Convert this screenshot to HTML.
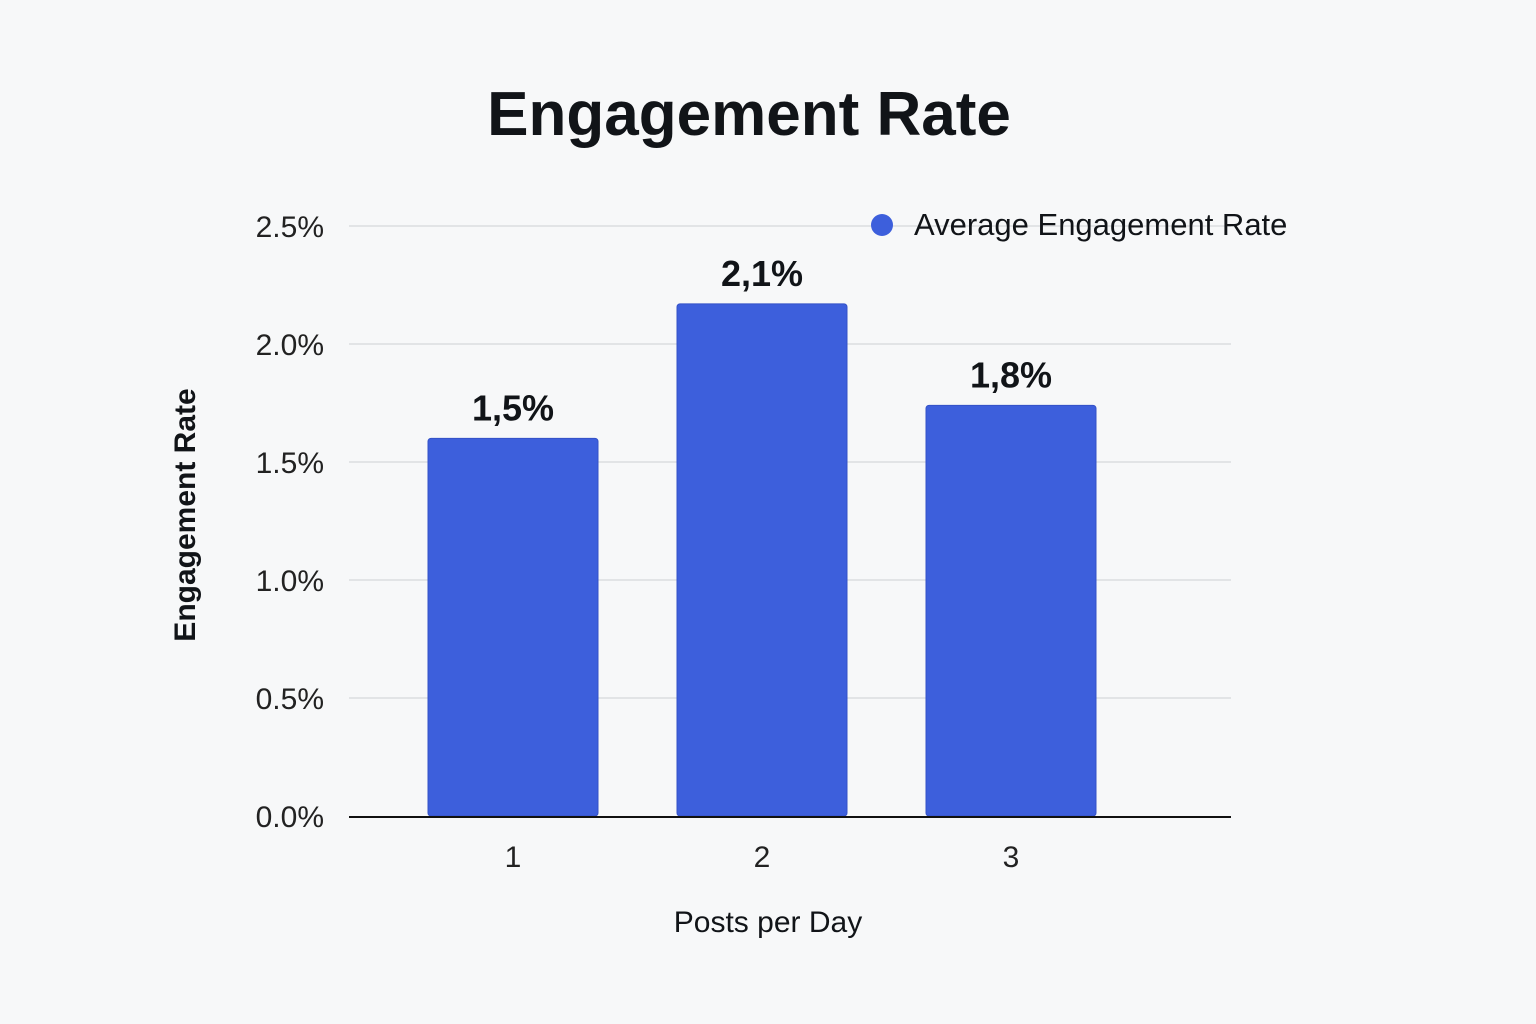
<!DOCTYPE html>
<html><head><meta charset="utf-8"><style>
body{margin:0;background:#f7f8f9;}
svg{display:block;font-family:"Liberation Sans",sans-serif;}
</style></head><body>
<svg id="chart" width="1536" height="1024" viewBox="0 0 1536 1024">
<rect width="1536" height="1024" fill="#f7f8f9"/>
<text x="749" y="135" text-anchor="middle" font-size="62" font-weight="bold" fill="#111418">Engagement Rate</text>
<g id="grid"></g>
<g id="bars"></g>
<g id="ylabels"></g>
<g id="xlabels"></g>
<line x1="349" y1="817" x2="1231" y2="817" stroke="#111" stroke-width="2"/>
<text transform="translate(195,515) rotate(-90)" text-anchor="middle" font-size="30" font-weight="bold" fill="#111418">Engagement Rate</text>
<text x="768" y="932" text-anchor="middle" font-size="30" fill="#111418">Posts per Day</text>
<g>
<circle cx="882" cy="225" r="11" fill="#3d5fdc"/>
<text x="914" y="235" font-size="31" fill="#111418">Average Engagement Rate</text>
</g>
</svg>
<script>
const categories = ["1","2","3"];
const values = [1.6, 2.17, 1.74];
const valueLabels = ["1,5%","2,1%","1,8%"];
const yTicks = [0, 0.5, 1.0, 1.5, 2.0, 2.5];
const yTickLabels = ["0.0%","0.5%","1.0%","1.5%","2.0%","2.5%"];

const NS="http://www.w3.org/2000/svg";
const y0=816, pxPer=236;
function yScale(v){return y0 - v*pxPer;}
function xScale(i){return 513 + i*249;}
const barW=170;
function mk(tag,attrs,parent){const e=document.createElementNS(NS,tag);for(const k in attrs)e.setAttribute(k,attrs[k]);parent.appendChild(e);return e;}
const grid=document.getElementById('grid'), bars=document.getElementById('bars'), yl=document.getElementById('ylabels'), xl=document.getElementById('xlabels');
yTicks.forEach((t,i)=>{
  if(t>0){const l=mk('line',{x1:349,x2:1231,y1:yScale(t),y2:yScale(t),stroke:'#dcdde0','stroke-width':1.5},grid);
  
  }
  const tx=mk('text',{x:324,y:yScale(t)+11,'text-anchor':'end','font-size':30,fill:'#222'},yl);
  tx.textContent=yTickLabels[i];
  
  
});
categories.forEach((c,i)=>{
  const cx=xScale(i), top=yScale(values[i]);
  const r=mk('rect',{x:cx-barW/2,y:top,width:barW,height:y0-top,rx:3,fill:'#3d5fdc',stroke:'#3452c8','stroke-width':1},bars);
  
  
  const vl=mk('text',{x:cx,y:top-18,'text-anchor':'middle','font-size':36,'font-weight':'bold',fill:'#111418'},bars);
  vl.textContent=valueLabels[i];
  
  
  const xt=mk('text',{x:cx,y:867,'text-anchor':'middle','font-size':30,fill:'#222'},xl);
  xt.textContent=c;
  
  
});
</script>
</body></html>
